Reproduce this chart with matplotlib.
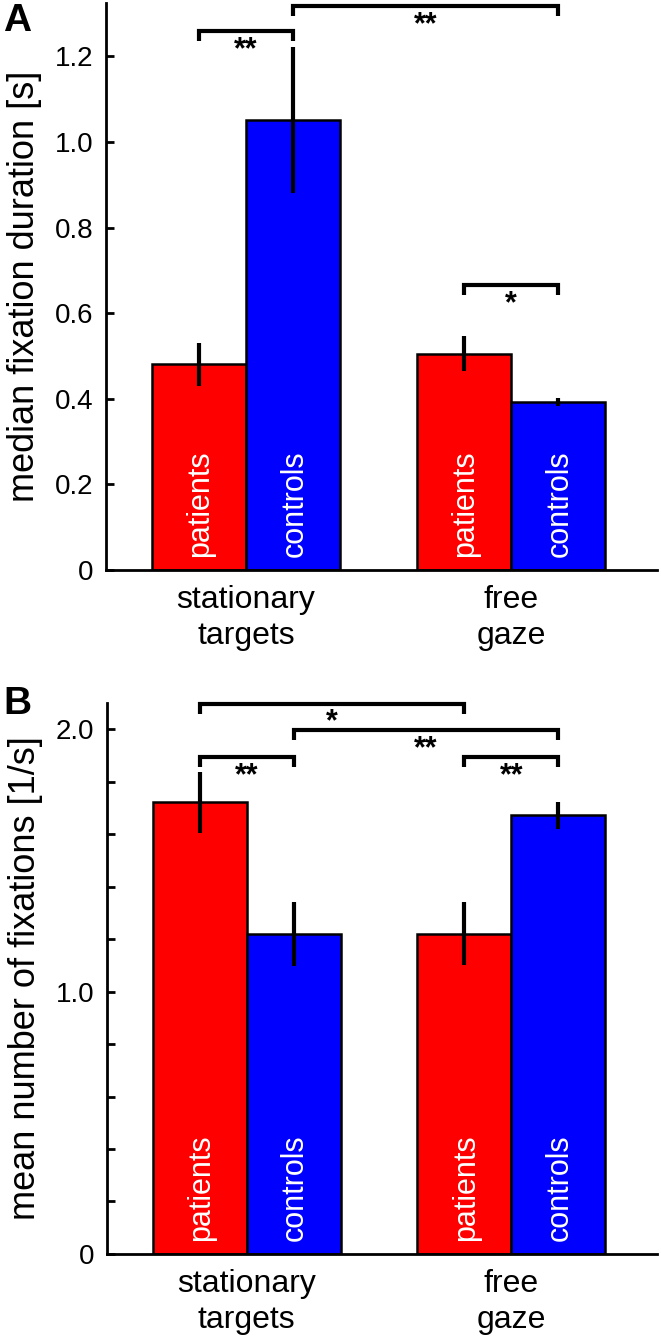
import matplotlib
matplotlib.use("Agg")
import matplotlib.pyplot as plt
import numpy as np

plt.rcParams['font.family'] = ['Liberation Sans', 'DejaVu Sans']

# ---- data ----
conditions = ["stationary\ntargets", "free\ngaze"]
groups = ["patients", "controls"]

dur_patients = [0.481, 0.505]
dur_controls = [1.051, 0.393]
dur_patients_err = [0.050, 0.041]
dur_controls_err = [0.170, 0.010]

num_patients = [1.721, 1.221]
num_controls = [1.221, 1.672]
num_patients_err = [0.115, 0.120]
num_controls_err = [0.122, 0.051]

dur_ticks = [0, 0.2, 0.4, 0.6, 0.8, 1.0, 1.2]
dur_ticklabels = ["0", "0.2", "0.4", "0.6", "0.8", "1.0", "1.2"]
num_ticks = [0, 0.2, 0.4, 0.6, 0.8, 1.0, 1.2, 1.4, 1.6, 1.8, 2.0]
num_ticklabels = ["0", "", "", "", "", "1.0", "", "", "", "", "2.0"]

# significance brackets: (bar a, bar b, height, label); bars indexed 0..3 = P1, C1, P2, C2
dur_sig = [(0, 1, 1.259, "**"), (1, 3, 1.318, "**"), (2, 3, 0.666, "*")]
num_sig = [(0, 2, 2.098, "*"), (1, 3, 1.996, "**"), (0, 1, 1.893, "**"), (2, 3, 1.893, "**")]

RED = "#ff0000"
BLUE = "#0000ff"
W = 0.355

fig = plt.figure(figsize=(6.61, 13.37), dpi=100)
axA = fig.add_axes([0.1604, 0.5737, 0.8336, 0.4241])
axB = fig.add_axes([0.1619, 0.0621, 0.832, 0.4121])


def draw(ax, pv, cv, pe, ce, ymax, ticks, ticklabels, ylabel, sig, drop):
    x = np.arange(1, len(conditions) + 1)
    xp = x - W / 2
    xc = x + W / 2
    ax.bar(xp, pv, width=W, color=RED, edgecolor="black", linewidth=1.8, zorder=2)
    ax.bar(xc, cv, width=W, color=BLUE, edgecolor="black", linewidth=1.8, zorder=2)
    ax.errorbar(xp, pv, yerr=pe, fmt="none", ecolor="black", elinewidth=3, capsize=0, zorder=3)
    ax.errorbar(xc, cv, yerr=ce, fmt="none", ecolor="black", elinewidth=3, capsize=0, zorder=3)
    for xi in xp:
        ax.annotate(groups[0], xy=(xi, 0), xytext=(1, 9), textcoords="offset points",
                    rotation=90, ha="center", va="bottom", color="white", fontsize=22, zorder=4)
    for xi in xc:
        ax.annotate(groups[1], xy=(xi, 0), xytext=(1, 9), textcoords="offset points",
                    rotation=90, ha="center", va="bottom", color="white", fontsize=22, zorder=4)
    ax.set_xlim(0.472, 2.551)
    ax.set_ylim(0, ymax)
    ax.set_yticks(ticks)
    ax.set_yticklabels(ticklabels)
    ax.set_xticks(x)
    ax.set_xticklabels(conditions, fontsize=23, linespacing=1.25)
    ax.tick_params(axis="x", length=0, pad=11)
    ax.tick_params(axis="y", direction="in", length=6, width=2, labelsize=20, pad=9)
    for s in ["top", "right"]:
        ax.spines[s].set_visible(False)
    for s in ["left", "bottom"]:
        ax.spines[s].set_linewidth(2)
    ax.set_ylabel(ylabel, fontsize=26, labelpad=9)
    centers = [xp[0], xc[0], xp[1], xc[1]]
    for a, b, y, lab in sig:
        x1, x2 = centers[a], centers[b]
        ax.plot([x1, x1, x2, x2], [y - drop, y, y, y - drop], color="black", lw=3,
                solid_capstyle="butt", solid_joinstyle="miter", clip_on=False, zorder=5)
        ax.annotate(lab, xy=((x1 + x2) / 2, y), xytext=(0, -3), textcoords="offset points",
                    ha="center", va="top", fontsize=22, fontweight="bold", zorder=5)


draw(axA, dur_patients, dur_controls, dur_patients_err, dur_controls_err, 1.325,
     dur_ticks, dur_ticklabels, "median fixation duration [s]", dur_sig, 10 / 428)
draw(axB, num_patients, num_controls, num_patients_err, num_controls_err, 2.10,
     num_ticks, num_ticklabels, "mean number of fixations [1/s]", num_sig, 10 / 262)

fig.text(3 / 661, 1 - 3 / 1337, "A", fontsize=28, fontweight="bold", ha="left", va="top")
fig.text(3 / 661, 1 - 686 / 1337, "B", fontsize=28, fontweight="bold", ha="left", va="top")

fig.savefig("out.png", dpi=100)
